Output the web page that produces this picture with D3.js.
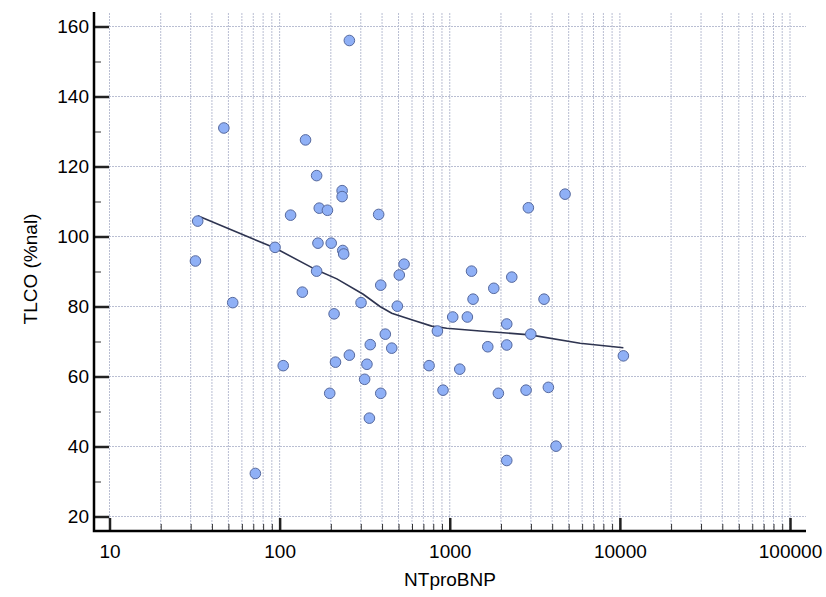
<!DOCTYPE html>
<html>
<head>
<meta charset="utf-8">
<script src="https://cdn.jsdelivr.net/npm/d3@7"></script>
<style>
  body { margin: 0; background: #fff; }
  text { font-family: "Liberation Sans", Arial, Helvetica, sans-serif; fill: #000; }
</style>
</head>
<body>
<div id="chart"></div>
<script>

// NTproBNP (x, log scale) and TLCO %pred (y) for each patient
var ntprobnp = [33, 32, 47, 53, 72, 94, 105, 116, 136, 142,
                165, 171, 191, 168, 201, 165, 233, 233, 235, 238,
                209, 257, 301, 382, 393, 418, 341, 257, 213, 326,
                316, 197, 393, 456, 539, 505, 492, 337, 1343, 1371,
                1041, 1269, 846, 756, 1145, 913, 4762, 2898, 2315, 1815,
                3583, 2163, 2994, 1673, 2163, 10486, 1931, 2809, 3799, 4216,
                2163];
var tlco = [104.4, 93.0, 131.0, 81.1, 32.3, 96.9, 63.1, 106.1, 84.1, 127.6,
            117.4, 108.1, 107.5, 98.1, 98.1, 90.1, 113.1, 111.4, 96.0, 95.0,
            77.9, 156.0, 81.1, 106.3, 86.1, 72.1, 69.1, 66.1, 64.1, 63.5,
            59.2, 55.2, 55.2, 68.1, 92.1, 89.0, 80.1, 48.1, 90.1, 82.1,
            77.0, 77.0, 73.0, 63.1, 62.1, 56.1, 112.1, 108.2, 88.4, 85.2,
            82.1, 75.0, 72.1, 68.5, 69.0, 65.9, 55.2, 56.1, 56.9, 40.1,
            36.0];

// smoothed trend line
var trendX = [33, 94, 165, 217, 310, 389, 456, 610, 783, 960, 1507, 2967, 5834, 10486];
var trendY = [105.9, 96.7, 90.4, 87.9, 83.5, 80.0, 78.1, 76.1, 74.4, 73.8, 73.0, 71.9, 69.5, 68.2];

var yMajor = [20, 40, 60, 80, 100, 120, 140, 160];
var yMinor = [30, 50, 70, 90, 110, 130, 150];
var xMajor = [10, 100, 1000, 10000, 100000];

var width = 826, height = 597;
var plot = {left: 94, right: 806, top: 12, bottom: 531};

var svg = d3.select("#chart").append("svg")
    .attr("width", width)
    .attr("height", height);

var x = d3.scaleLog()
    .domain([10, 100000])
    .range([109.5, 790]);

var y = d3.scaleLinear()
    .domain([20, 160])
    .range([516.5, 26.5]);

// minor log ticks 10..100000
var xMinor = [];
for (var e = 1; e < 5; e++) {
  for (var m = 2; m < 10; m++) {
    xMinor.push(m * Math.pow(10, e));
  }
}

var gridColor = "#b9bed2";

// vertical grid
svg.append("g")
    .selectAll("line")
    .data(xMajor.concat(xMinor))
    .enter().append("line")
      .attr("x1", function(d) { return x(d); })
      .attr("x2", function(d) { return x(d); })
      .attr("y1", plot.top + 1)
      .attr("y2", plot.bottom)
      .attr("stroke", gridColor)
      .attr("stroke-width", 1)
      .attr("stroke-dasharray", "2,1");

// horizontal grid
svg.append("g")
    .selectAll("line")
    .data(yMajor)
    .enter().append("line")
      .attr("x1", plot.left)
      .attr("x2", plot.right)
      .attr("y1", function(d) { return y(d); })
      .attr("y2", function(d) { return y(d); })
      .attr("stroke", gridColor)
      .attr("stroke-width", 1)
      .attr("stroke-dasharray", "2,1");

// y axis
var yAxis = svg.append("g")
    .attr("transform", "translate(" + plot.left + ",0)")
    .call(d3.axisLeft(y).tickValues(yMajor).tickSize(-15).tickPadding(5).tickFormat(d3.format("d")));
yAxis.select(".domain").remove();
yAxis.selectAll(".tick line").attr("stroke", "#222").attr("stroke-width", 2.5);
yAxis.selectAll("text").style("font-size", "19px");

var yAxisMinor = svg.append("g")
    .attr("transform", "translate(" + plot.left + ",0)")
    .call(d3.axisLeft(y).tickValues(yMinor).tickSize(-7).tickFormat(""));
yAxisMinor.select(".domain").remove();
yAxisMinor.selectAll(".tick line").attr("stroke", "#333").attr("stroke-width", 1);

// x axis
var xAxis = svg.append("g")
    .attr("transform", "translate(0," + plot.bottom + ")")
    .call(d3.axisBottom(x).tickValues(xMajor).tickSize(-13).tickPadding(14).tickFormat(d3.format("d")));
xAxis.select(".domain").remove();
xAxis.selectAll(".tick line").attr("stroke", "#222").attr("stroke-width", 2.5);
xAxis.selectAll("text").style("font-size", "19px");

var xAxisMinor = svg.append("g")
    .attr("transform", "translate(0," + plot.bottom + ")")
    .call(d3.axisBottom(x).tickValues(xMinor).tickSize(-7).tickFormat(""));
xAxisMinor.select(".domain").remove();
xAxisMinor.selectAll(".tick line").attr("stroke", "#333").attr("stroke-width", 1);

// axis lines
svg.append("path")
    .attr("d", "M" + plot.left + "," + plot.top + "V" + plot.bottom + "H" + plot.right)
    .attr("fill", "none")
    .attr("stroke", "#000")
    .attr("stroke-width", 2.5);

// trend line
var line = d3.line()
    .x(function(d) { return x(d[0]); })
    .y(function(d) { return y(d[1]); });

svg.append("path")
    .datum(trendX.map(function(v, i) { return [v, trendY[i]]; }))
    .attr("d", line)
    .attr("fill", "none")
    .attr("stroke", "#2e3450")
    .attr("stroke-width", 1.6);

// points
svg.append("g")
    .selectAll("circle")
    .data(ntprobnp.map(function(v, i) { return [v, tlco[i]]; }))
    .enter().append("circle")
      .attr("cx", function(d) { return x(d[0]); })
      .attr("cy", function(d) { return y(d[1]); })
      .attr("r", 5.3)
      .attr("fill", "#8fb0f6")
      .attr("stroke", "#56699e")
      .attr("stroke-width", 1);

// axis titles
svg.append("text")
    .attr("x", 450)
    .attr("y", 586)
    .attr("text-anchor", "middle")
    .style("font-size", "19px")
    .text("NTproBNP");

svg.append("text")
    .attr("transform", "translate(37,269) rotate(-90)")
    .attr("text-anchor", "middle")
    .style("font-size", "19px")
    .text("TLCO (%nal)");

</script>
</body>
</html>
